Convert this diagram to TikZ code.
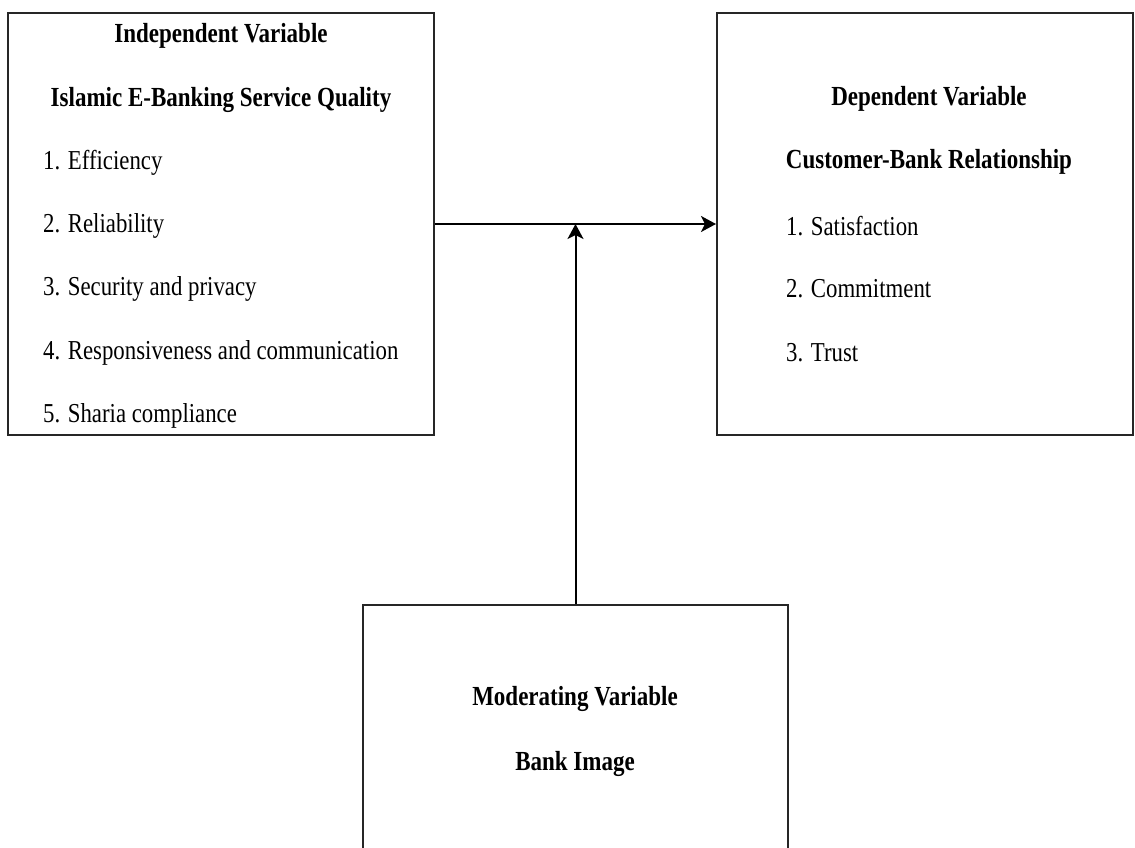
\documentclass[tikz,border=0pt]{standalone}
\usepackage{fontspec}
\setmainfont{Liberation Serif}
\usetikzlibrary{arrows.meta}
\newcommand{\talltext}[1]{\scalebox{1}[1.2]{#1}}
\tikzset{
  box/.style={draw=black!85, line width=2pt, rectangle, inner sep=0pt},
  head/.style={font=\fontsize{23}{26}\selectfont\bfseries, inner sep=0pt, anchor=center},
  item/.style={font=\fontsize{22.8}{26}\selectfont, inner sep=0pt, anchor=west},
  conn/.style={line width=2pt, -{Stealth[length=15pt, width=16pt, inset=4pt]}}
}
\begin{document}
\begin{tikzpicture}[x=1pt,y=-1pt]
\useasboundingbox (0,0) rectangle (1135,848);
\clip (0,0) rectangle (1135,848);
% boxes
\node[box, minimum width=426pt, minimum height=422pt] (iv) at (221,224) {};
\node[box, minimum width=416pt, minimum height=422pt] (dv) at (925,224) {};
\node[box, minimum width=425pt, minimum height=248pt, anchor=north] (mv) at (575.5,604) {};
% independent variable texts
\node[head] (ivh1) at (221,36) {\talltext{Independent Variable}};
\node[head] (ivh2) at (221,100) {\talltext{Islamic E-Banking Service Quality}};
\node[item] (iv1) at (43,163) {\talltext{1. Efficiency}};
\node[item] (iv2) at (43,226) {\talltext{2. Reliability}};
\node[item] (iv3) at (43,289) {\talltext{3. Security and privacy}};
\node[item] (iv4) at (43,353) {\talltext{4. Responsiveness and communication}};
\node[item] (iv5) at (43,416) {\talltext{5. Sharia compliance}};
% dependent variable texts
\node[head] (dvh1) at (929,99) {\talltext{Dependent Variable}};
\node[head] (dvh2) at (929,162) {\talltext{Customer-Bank Relationship}};
\node[item] (dv1) at (786,226) {\talltext{1. Satisfaction}};
\node[item] (dv2) at (786,289) {\talltext{2. Commitment}};
\node[item] (dv3) at (786,353) {\talltext{3. Trust}};
% moderating variable texts
\node[head] (mvh1) at (575,699) {\talltext{Moderating Variable}};
\node[head] (mvh2) at (575,764) {\talltext{Bank Image}};
% connectors
\coordinate (j) at (mv.north |- iv.east);
\draw[conn] (iv.east) -- (dv.west);
\draw[conn] (mv.north) -- (j);
\end{tikzpicture}
\end{document}
